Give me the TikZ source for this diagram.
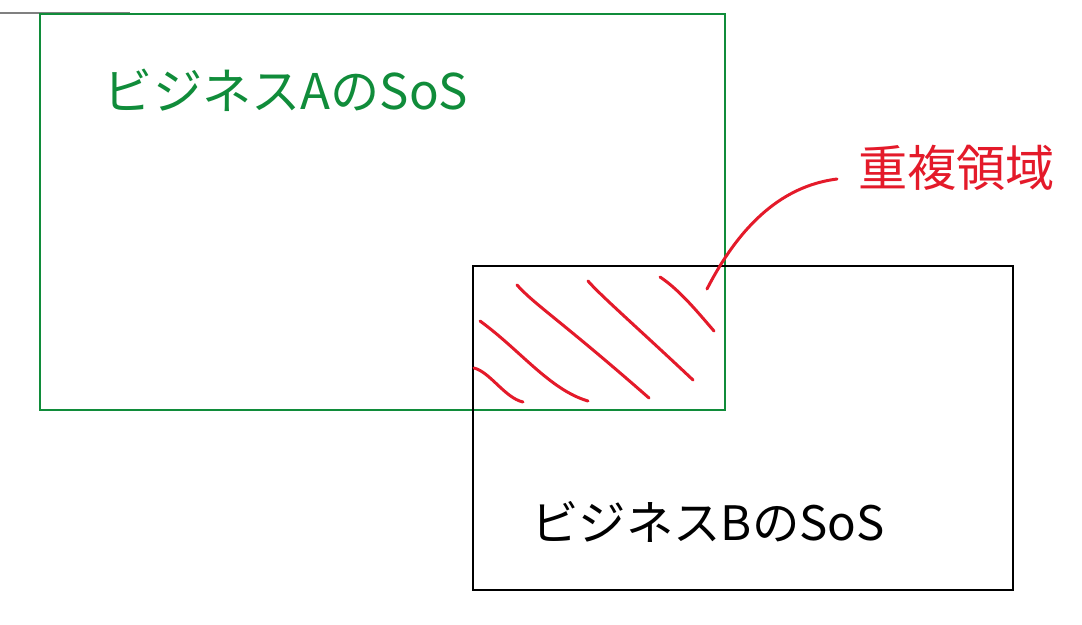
\documentclass[tikz,border=0pt]{standalone}
\usepackage{fontspec}
\newfontfamily\jpfont{Noto Sans CJK JP}
\definecolor{sosgreen}{RGB}{16,140,58}
\definecolor{sosred}{RGB}{228,26,42}
\tikzset{
  hatch/.style={sosred, line width=1.7pt, line cap=round},
  sostext/.style={font=\jpfont\fontsize{28}{30}\selectfont, inner sep=0pt}
}
\begin{document}
\begin{tikzpicture}[x=0.02cm, y=-0.02cm, line width=1.5pt]
    \useasboundingbox (0,0) rectangle (1082,625);
    \fill[white] (0,0) rectangle (1082,625);
    \draw[gray, line width=1pt] (0,13) -- (130,13);
    \draw[sosgreen] (40,14) rectangle (725,410);
    \draw (473,266) rectangle (1013,590);
    \begin{scope}[every path/.style={hatch}]
    \draw (474,368) .. controls (490,372) and (505,398) .. (523,402);
    \draw (480,321) .. controls (520,350) and (550,390) .. (588,401);
    \draw (517,285) .. controls (535,305) and (560,320) .. (649,398);
    \draw (588,281) .. controls (600,295) and (640,330) .. (693,380);
    \draw (660,277) .. controls (680,290) and (700,315) .. (714,331);
    \end{scope}
    \begin{scope}[every node/.style={sostext}]
    \node[sosgreen] (bizA) at (286,90) {ビジネスAのSoS};
    \node[font=\jpfont\fontsize{27}{30}\selectfont] (bizB) at (708,522) {ビジネスBのSoS};
    \node[sosred, anchor=west, inner xsep=0.4cm] (overlap) at (837,168) {重複領域};
    \end{scope}
    \coordinate (tip) at (707,289);
    \draw[hatch] (tip) .. controls (745,215) and (790,185) .. ([yshift=-0.22cm]overlap.west);
\end{tikzpicture}
\end{document}
